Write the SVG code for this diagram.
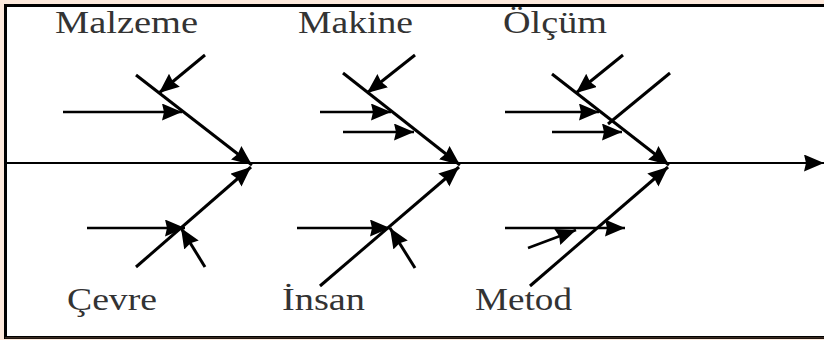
<svg xmlns="http://www.w3.org/2000/svg" width="824" height="340" viewBox="0 0 824 340">
<defs>
<marker id="ah" markerUnits="userSpaceOnUse" markerWidth="22" markerHeight="18" refX="20" refY="8.5" orient="auto"><path d="M0,0 L20,8.5 L0,17 L2,8.5 z" fill="#000"/></marker>
<style>
.lbl{font-family:'Liberation Serif','Times New Roman',serif;font-size:31px;fill:#333}
.bone{stroke:#000;stroke-width:3;fill:none}
.sub{stroke:#000;stroke-width:2.5;fill:none}
.spine{stroke:#000;stroke-width:2;fill:none}
</style>
</defs>
<rect x="0" y="0" width="824" height="340" fill="#fde9dc"/>
<rect x="5.5" y="5.5" width="830" height="332" fill="#fff" stroke="#000" stroke-width="3"/>
<rect x="5" y="337" width="820" height="1.5" fill="#3a2a20"/>
<g id="connectors">
<line class="spine" x1="6" y1="163" x2="824" y2="163" marker-end="url(#ah)"/>
</g>
<g id="malzeme">
<text class="lbl" font-family="Liberation Serif, serif" x="55" y="33" textLength="143" lengthAdjust="spacingAndGlyphs">Malzeme</text>
<line class="bone" x1="136" y1="75" x2="252" y2="165" marker-end="url(#ah)"/>
<line class="bone" x1="205" y1="55" x2="159" y2="93" marker-end="url(#ah)"/>
<line class="sub" x1="63" y1="112" x2="182" y2="112" marker-end="url(#ah)"/>
</g>
<g id="cevre">
<text class="lbl" font-family="Liberation Serif, serif" x="67" y="310" textLength="90" lengthAdjust="spacingAndGlyphs">Çevre</text>
<line class="bone" x1="136" y1="267" x2="251" y2="167" marker-end="url(#ah)"/>
<line class="sub" x1="87" y1="228" x2="185" y2="228" marker-end="url(#ah)"/>
<line class="bone" x1="205" y1="267" x2="181" y2="228" marker-end="url(#ah)"/>
</g>
<g id="makine">
<text class="lbl" font-family="Liberation Serif, serif" x="298" y="33" textLength="115" lengthAdjust="spacingAndGlyphs">Makine</text>
<line class="bone" x1="343" y1="73" x2="460" y2="165" marker-end="url(#ah)"/>
<line class="bone" x1="415" y1="55" x2="367" y2="93" marker-end="url(#ah)"/>
<line class="sub" x1="320" y1="112" x2="391" y2="112" marker-end="url(#ah)"/>
<line class="sub" x1="343" y1="132" x2="414" y2="132" marker-end="url(#ah)"/>
</g>
<g id="insan">
<text class="lbl" font-family="Liberation Serif, serif" x="282" y="310" textLength="83" lengthAdjust="spacingAndGlyphs">İnsan</text>
<line class="bone" x1="320" y1="286" x2="459" y2="167" marker-end="url(#ah)"/>
<line class="sub" x1="297" y1="228" x2="390" y2="228" marker-end="url(#ah)"/>
<line class="bone" x1="415" y1="268" x2="390" y2="228" marker-end="url(#ah)"/>
</g>
<g id="olcum">
<text class="lbl" font-family="Liberation Serif, serif" x="503" y="33" textLength="104" lengthAdjust="spacingAndGlyphs">Ölçüm</text>
<line class="bone" x1="552" y1="74" x2="669" y2="165" marker-end="url(#ah)"/>
<line class="bone" x1="623" y1="55" x2="576" y2="93" marker-end="url(#ah)"/>
<line class="bone" x1="670" y1="73" x2="608" y2="124"/>
<line class="sub" x1="505" y1="112" x2="599" y2="112" marker-end="url(#ah)"/>
<line class="sub" x1="552" y1="132" x2="622" y2="132" marker-end="url(#ah)"/>
</g>
<g id="metod">
<text class="lbl" font-family="Liberation Serif, serif" x="475" y="310" textLength="97" lengthAdjust="spacingAndGlyphs">Metod</text>
<line class="bone" x1="530" y1="286" x2="668" y2="167" marker-end="url(#ah)"/>
<line class="sub" x1="505" y1="228" x2="625" y2="228" marker-end="url(#ah)"/>
<line class="sub" x1="528" y1="248" x2="576" y2="230" marker-end="url(#ah)"/>
</g>
</svg>
